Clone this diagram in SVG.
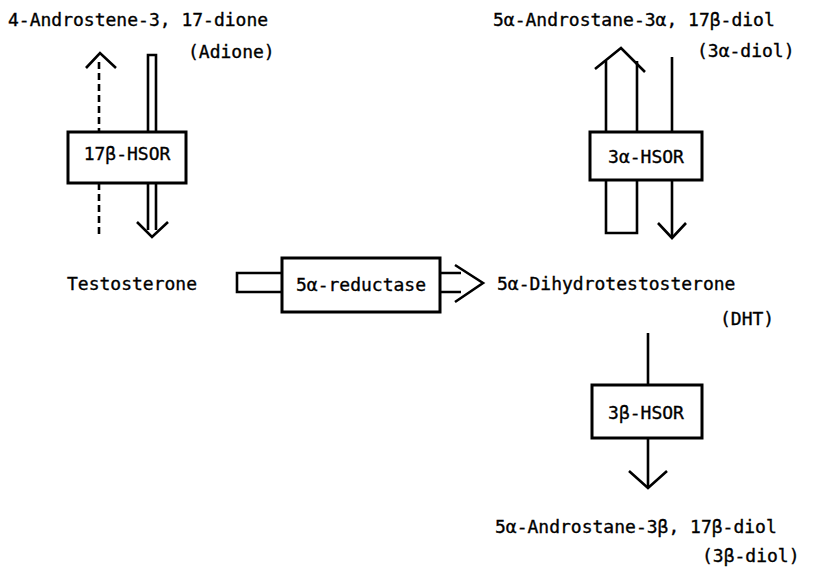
<svg xmlns="http://www.w3.org/2000/svg" width="813" height="567" viewBox="0 0 813 567">
<style>
text{font-family:"DejaVu Sans Mono","Liberation Mono",monospace;font-size:18px;fill:#000;stroke:#000;stroke-width:0.35}
.box{fill:#fff;stroke:#000;stroke-width:3}
.ln{fill:none;stroke:#000;stroke-width:2.6;stroke-linejoin:miter}
.dash{fill:none;stroke:#000;stroke-width:2.6;stroke-dasharray:7 4}
.m{text-anchor:middle}
</style>
<rect width="813" height="567" fill="#fff"/>
<g id="connectors">
<path class="dash" d="M99,62 V132 M99,183 V238"/>
<path class="ln" d="M86,68 L100,53 L116,68"/>
<path class="ln" d="M148,132 V55 H156 V132 M148,183 V230 M156,183 V230"/>
<path class="ln" d="M137,222 L152,237 L168,222"/>
<path class="ln" d="M606,132 V61 M637,132 V61 M606,180 V233 H637 V180"/>
<path class="ln" d="M595,69 L621,48 L645,72"/>
<path class="ln" d="M672,57 V132 M672,180 V238"/>
<path class="ln" d="M658,223 L672,238 L686,223"/>
<path class="ln" d="M282,273 H237 V292 H282 M440,273 H461 M440,292 H461"/>
<path class="ln" d="M455,265 L483,283 L455,302"/>
<path class="ln" d="M648,333 V385 M648,438 V488"/>
<path class="ln" d="M629,471 L648,488 L667,471"/>
</g>
<g id="adione"><text x="8" y="26">4-Androstene-3, 17-dione</text><text x="188" y="58">(Adione)</text></g>
<g id="diol3a"><text x="493" y="26">5α-Androstane-3α, 17β-diol</text><text x="697" y="57">(3α-diol)</text></g>
<g id="testosterone"><text x="67" y="290">Testosterone</text></g>
<g id="dht"><text x="497" y="290">5α-Dihydrotestosterone</text><text x="720" y="325">(DHT)</text></g>
<g id="diol3b"><text x="495" y="533">5α-Androstane-3β, 17β-diol</text><text x="702" y="562">(3β-diol)</text></g>
<g id="hsor17b"><rect class="box" x="68" y="132" width="118" height="51"/><text class="m" x="127" y="160">17β-HSOR</text></g>
<g id="hsor3a"><rect class="box" x="590" y="132" width="112" height="48"/><text class="m" x="646" y="163">3α-HSOR</text></g>
<g id="reductase"><rect class="box" x="282" y="258" width="158" height="54"/><text class="m" x="361" y="291">5α-reductase</text></g>
<g id="hsor3b"><rect class="box" x="592" y="385" width="110" height="53"/><text class="m" x="646" y="419">3β-HSOR</text></g>
</svg>
